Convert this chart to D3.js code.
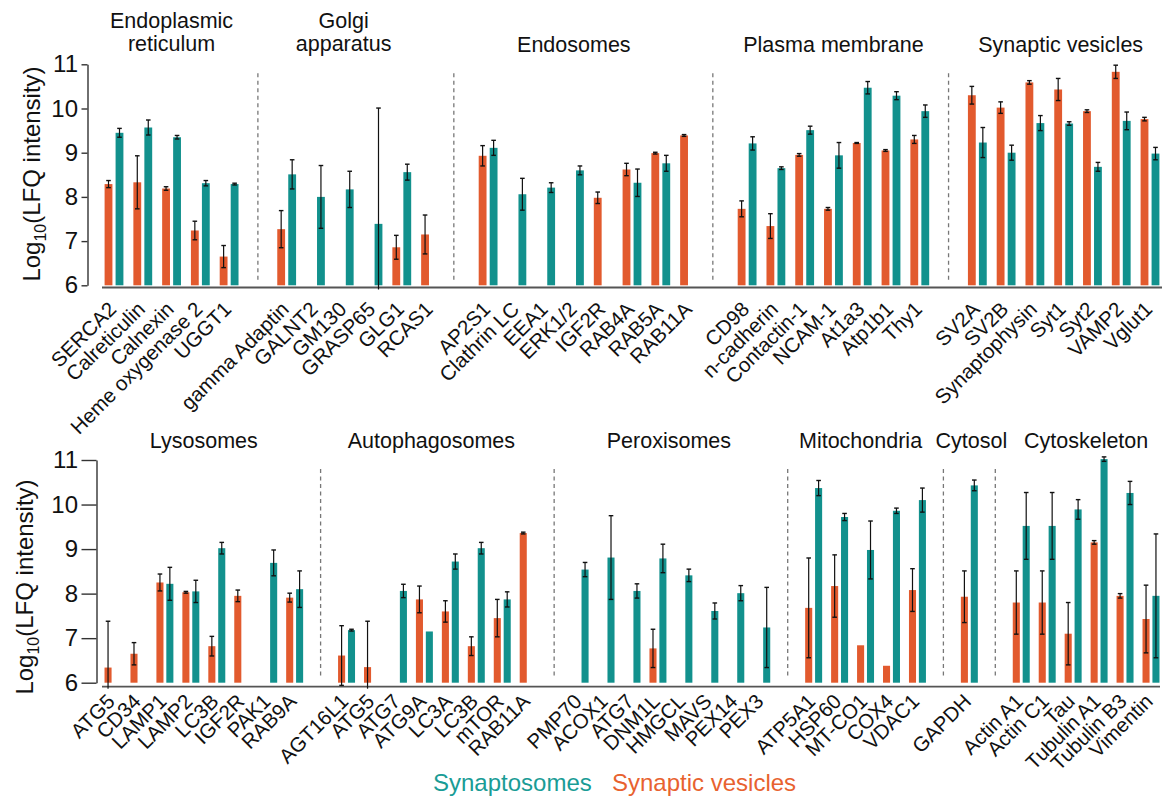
<!DOCTYPE html>
<html><head><meta charset="utf-8">
<script src="https://cdn.jsdelivr.net/npm/d3@7/dist/d3.min.js"></script>
<style>
body{margin:0;background:#fff}
svg text{font-family:"Liberation Sans",Arial,Helvetica,sans-serif;fill:#111}
</style>
</head><body>
<svg id="chart" width="1165" height="804"></svg>
<script>
// ---------------- DATA ----------------
const yTickValues = [6, 7, 8, 9, 10, 11];
const legendLabels = ["Synaptosomes", "Synaptic vesicles"];

// Top panel
const topTitles = [["Endoplasmic", "reticulum"], ["Golgi", "apparatus"], ["Endosomes"], ["Plasma membrane"], ["Synaptic vesicles"]];
const topCategories = [
  ["SERCA2", "Calreticulin", "Calnexin", "Heme oxygenase 2", "UGGT1"],
  ["gamma Adaptin", "GALNT2", "GM130", "GRASP65", "GLG1", "RCAS1"],
  ["AP2S1", "Clathrin LC", "EEA1", "ERK1/2", "IGF2R", "RAB4A", "RAB5A", "RAB11A"],
  ["CD98", "n-cadherin", "Contactin-1", "NCAM-1", "At1a3", "Atp1b1", "Thy1"],
  ["SV2A", "SV2B", "Synaptophysin", "Syt1", "Syt2", "VAMP2", "Vglut1"]
];
// Synaptic vesicles (orange)
const topVesicles = [
  [8.29, 8.33, 8.19, 7.24, 6.65],
  [7.27, null, null, null, 6.86, 7.15],
  [8.93, null, null, null, 7.98, 8.62, 8.99, 9.39],
  [7.73, 7.34, 8.95, 7.73, 9.22, 9.05, 9.30],
  [10.30, 10.02, 10.59, 10.43, 9.94, 10.83, 9.76]
];
const topVesiclesErr = [
  [0.08, 0.60, 0.04, 0.21, 0.25],
  [0.42, null, null, null, 0.27, 0.44],
  [0.23, null, null, null, 0.13, 0.14, 0.02, 0.02],
  [0.18, 0.28, 0.03, 0.03, 0.01, 0.02, 0.09],
  [0.20, 0.13, 0.04, 0.25, 0.03, 0.15, 0.04]
];
// Synaptosomes (teal)
const topSynaptosomes = [
  [9.45, 9.57, 9.35, 8.31, 8.29],
  [8.51, 8.00, 8.17, 7.39, 8.56, null],
  [9.11, 8.06, 8.21, 8.60, null, 8.32, 8.76, null],
  [9.21, 8.65, 9.51, 8.94, 10.47, 10.29, 9.94],
  [9.23, 9.00, 9.67, 9.66, 8.68, 9.72, 8.98]
];
const topSynaptosomesErr = [
  [0.10, 0.17, 0.04, 0.06, 0.02],
  [0.33, 0.71, 0.41, 2.62, 0.18, null],
  [0.17, 0.36, 0.11, 0.10, null, 0.31, 0.18, null],
  [0.15, 0.03, 0.09, 0.29, 0.14, 0.09, 0.14],
  [0.34, 0.17, 0.17, 0.04, 0.10, 0.20, 0.14]
];

// Bottom panel
const bottomTitles = [["Lysosomes"], ["Autophagosomes"], ["Peroxisomes"], ["Mitochondria"], ["Cytosol"], ["Cytoskeleton"]];
const bottomCategories = [
  ["ATG5", "CD34", "LAMP1", "LAMP2", "LC3B", "IGF2R", "PAK1", "RAB9A"],
  ["AGT16L1", "ATG5", "ATG7", "ATG9A", "LC3A", "LC3B", "mTOR", "RAB11A"],
  ["PMP70", "ACOX1", "ATG7", "DNM1L", "HMGCL", "MAVS", "PEX14", "PEX3"],
  ["ATP5A1", "HSP60", "MT-CO1", "COX4", "VDAC1"],
  ["GAPDH"],
  ["Actin A1", "Actin C1", "Tau", "Tubulin A1", "Tubulin B3", "Vimentin"]
];
const bottomVesicles = [
  [6.34, 6.65, 8.25, 8.03, 6.82, 7.95, null, 7.91],
  [6.61, 6.35, null, 7.87, 7.60, 6.82, 7.45, 9.36],
  [null, null, null, 6.77, null, null, null, null],
  [7.68, 8.17, 6.84, 6.38, 8.08],
  [7.93],
  [7.80, 7.80, 7.10, 9.15, 7.95, 7.43]
];
const bottomVesiclesErr = [
  [1.04, 0.25, 0.19, 0.02, 0.22, 0.13, null, 0.10],
  [0.67, 1.03, null, 0.30, 0.24, 0.21, 0.42, 0.02],
  [null, null, null, 0.43, null, null, null, null],
  [1.12, 0.70, null, null, 0.48],
  [0.58],
  [0.71, 0.71, 0.70, 0.04, 0.05, 0.76]
];
const bottomSynaptosomes = [
  [null, null, 8.22, 8.05, 9.02, null, 8.69, 8.10],
  [7.18, null, 8.06, 7.15, 8.72, 9.02, 7.87, null],
  [8.54, 8.81, 8.06, 8.79, 8.41, 7.61, 8.01, 7.24],
  [10.37, 9.72, 8.98, 9.86, 10.10],
  [10.43],
  [9.52, 9.52, 9.89, 11.02, 10.26, 7.95]
];
const bottomSynaptosomesErr = [
  [null, null, 0.37, 0.25, 0.13, null, 0.29, 0.41],
  [0.02, null, 0.15, null, 0.17, 0.13, 0.17, null],
  [0.16, 0.94, 0.16, 0.32, 0.14, 0.18, 0.17, 0.90],
  [0.17, 0.08, 0.65, 0.06, 0.27],
  [0.12],
  [0.75, 0.75, 0.22, 0.05, 0.26, 1.39]
];

// ---------------- STYLE ----------------
const COLOR_VES = "#E25A2E";
const COLOR_SYN = "#12918D";
const LEG_SYN = "#1A9C96";
const LEG_VES = "#E8622F";

const svg = d3.select("#chart");

function drawPanel(cfg) {
  const g = svg.append("g");
  const y = d3.scaleLinear().domain([6, 11]).range(cfg.yRange);

  // build slots (categories + separator slots)
  const slots = [];
  cfg.categories.forEach((cats, s) => {
    cats.forEach((name, i) => slots.push({ s, i, name }));
    if (s < cfg.categories.length - 1) slots.push({ sep: true, s });
  });
  const x = d3.scalePoint().domain(d3.range(slots.length)).range(cfg.xRange);
  const step = x.step();
  const bw = 0.272 * step, hg = 0.055 * step;
  const slotIndex = (s, i) => slots.findIndex(d => !d.sep && d.s === s && d.i === i);

  const bars = [];
  slots.forEach((d, k) => {
    if (d.sep) return;
    const c = x(k);
    const v1 = cfg.vesicles[d.s][d.i], v2 = cfg.synapto[d.s][d.i];
    if (v1 != null) bars.push({ s: d.s, i: d.i, x0: c - hg - bw, v: v1, e: cfg.vesiclesErr[d.s][d.i], color: COLOR_VES });
    if (v2 != null) bars.push({ s: d.s, i: d.i, x0: c + hg, v: v2, e: cfg.synaptoErr[d.s][d.i], color: COLOR_SYN });
  });

  // x axis line
  g.append("line").attr("x1", cfg.xLine[0]).attr("x2", cfg.xLine[1])
    .attr("y1", cfg.baseY).attr("y2", cfg.baseY).attr("stroke", "#555").attr("stroke-width", 1.8);

  // y axis
  const yAxis = g.append("g").attr("transform", `translate(${cfg.axisX},0)`)
    .call(d3.axisLeft(y).tickValues(yTickValues).tickSize(cfg.tickLen).tickSizeOuter(0).tickPadding(3.5).tickFormat(d3.format("d")));
  yAxis.select(".domain").attr("stroke", "#333").attr("stroke-width", 1.4);
  yAxis.selectAll(".tick line").attr("stroke", "#333").attr("stroke-width", 1.4);
  yAxis.selectAll(".tick text").attr("font-size", 24).attr("fill", "#111")
    .attr("font-family", '"Liberation Sans",Arial,sans-serif');

  // y title
  const yt = g.append("text").attr("transform", `translate(${cfg.yTitle[0]},${cfg.yTitle[1]}) rotate(-90)`)
    .attr("text-anchor", "middle").attr("font-size", 24);
  yt.append("tspan").text("Log");
  yt.append("tspan").text("10").attr("font-size", 16).attr("dy", 6);
  yt.append("tspan").text("(LFQ intensity)").attr("dy", -6);

  // dashed separators between sections
  cfg.categories.forEach((cats, s) => {
    if (s === cfg.categories.length - 1) return;
    const prev = bars.filter(b => b.s === s && b.i === cats.length - 1);
    const next = bars.filter(b => b.s === s + 1 && b.i === 0);
    const right = d3.max(prev, b => b.x0 + bw);
    const left = d3.min(next, b => b.x0);
    const mx = (right + left) / 2;
    g.append("line").attr("x1", mx).attr("x2", mx).attr("y1", y(10.8)).attr("y2", y(6.12))
      .attr("stroke", "#777").attr("stroke-width", 1.3).attr("stroke-dasharray", "4,3.5");
  });

  // bars
  g.selectAll("rect.bar").data(bars).join("rect").attr("class", "bar")
    .attr("x", d => d.x0).attr("width", bw)
    .attr("y", d => y(d.v)).attr("height", d => y(6) - y(d.v))
    .attr("fill", d => d.color);

  // error bars
  const limit = cfg.baseY + 2;
  bars.filter(b => b.e != null).forEach(b => {
    const cx = b.x0 + bw / 2;
    const yt1 = y(b.v + b.e);
    let yb = y(b.v - b.e);
    const clipped = yb > limit;
    if (clipped) yb = limit;
    g.append("line").attr("x1", cx).attr("x2", cx).attr("y1", yt1).attr("y2", yb)
      .attr("stroke", "#111").attr("stroke-width", 1.2);
    g.append("line").attr("x1", cx - 2.3).attr("x2", cx + 2.3).attr("y1", yt1).attr("y2", yt1)
      .attr("stroke", "#111").attr("stroke-width", 1.4);
    if (!clipped) g.append("line").attr("x1", cx - 2.3).attr("x2", cx + 2.3).attr("y1", yb).attr("y2", yb)
      .attr("stroke", "#111").attr("stroke-width", 1.4);
  });

  // x labels
  slots.forEach((d, k) => {
    if (d.sep) return;
    g.append("text").attr("transform", `translate(${x(k) + cfg.labelDx},${cfg.baseY + cfg.labelDy}) rotate(-45)`)
      .attr("text-anchor", "end").attr("font-size", 20.5).text(d.name);
  });

  // section titles
  cfg.titles.forEach((lines, s) => {
    const k0 = slotIndex(s, 0), k1 = slotIndex(s, cfg.categories[s].length - 1);
    const cx = (x(k0) + x(k1)) / 2 + cfg.titleDx[s];
    const ys = lines.length === 2 ? cfg.titleY2 : [cfg.titleY1];
    lines.forEach((t, j) => g.append("text").attr("x", cx).attr("y", ys[j])
      .attr("text-anchor", "middle").attr("font-size", 21.5).text(t));
  });
}

drawPanel({
  titles: topTitles, categories: topCategories,
  vesicles: topVesicles, vesiclesErr: topVesiclesErr,
  synapto: topSynaptosomes, synaptoErr: topSynaptosomesErr,
  yRange: [285.3, 64.3], xRange: [114, 1150],
  axisX: 87.5, tickLen: 6, baseY: 287.5, xLine: [102, 1162],
  yTitle: [40, 174], labelDx: 3.5, labelDy: 23,
  titleY1: 52, titleY2: [28, 51], titleDx: [0, -15, -15, 0, -3]
});

drawPanel({
  titles: bottomTitles, categories: bottomCategories,
  vesicles: bottomVesicles, vesiclesErr: bottomVesiclesErr,
  synapto: bottomSynaptosomes, synaptoErr: bottomSynaptosomesErr,
  yRange: [682.7, 460], xRange: [113, 1151],
  axisX: 96.5, tickLen: 15, baseY: 686.7, xLine: [102, 1160],
  yTitle: [33, 587], labelDx: 3, labelDy: 16,
  titleY1: 448, titleY2: [424, 448], titleDx: [0, -6, -2, -5, 2, 0]
});

// legend
svg.append("text").attr("x", 433).attr("y", 791).attr("font-size", 24).style("fill", LEG_SYN).text(legendLabels[0]);
svg.append("text").attr("x", 612).attr("y", 791).attr("font-size", 24).style("fill", LEG_VES).text(legendLabels[1]);
</script>
</body></html>
